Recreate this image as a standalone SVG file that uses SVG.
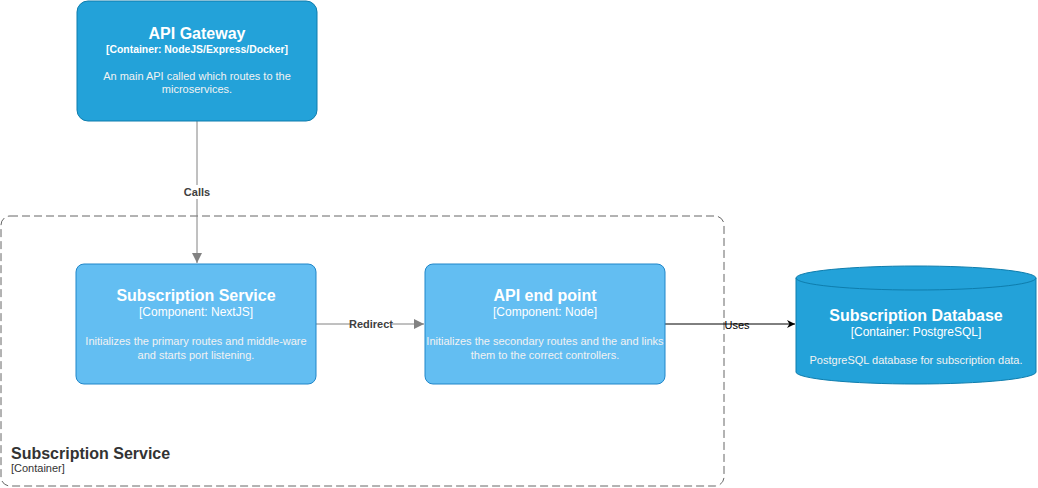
<svg xmlns="http://www.w3.org/2000/svg" width="1038" height="488" viewBox="0 0 1038 488">
<style>
text{font-family:"Liberation Sans",Arial,Helvetica,sans-serif;text-anchor:middle}
.title{font-size:16px;font-weight:bold;fill:#ffffff}
.tech{font-size:12px;fill:#ffffff}
.desc{font-size:11px;fill:#f2f2f2}
.cont{fill:#23A2D9;stroke:#0E7DAD;stroke-width:1}
.comp{fill:#63BEF2;stroke:#2086C9;stroke-width:1}
.edge{fill:none;stroke:#828282;stroke-width:1}
.elabel{font-size:11px;font-weight:bold;fill:#404040}
</style>
<defs>
<marker id="ag" viewBox="0 0 10 10" refX="10" refY="5" markerWidth="10" markerHeight="10" markerUnits="userSpaceOnUse" orient="auto">
<path d="M0,0 L10,5 L0,10 Z" fill="#828282"/>
</marker>
<marker id="ab" viewBox="0 0 10 10" refX="10" refY="5" markerWidth="8" markerHeight="8" markerUnits="userSpaceOnUse" orient="auto">
<path d="M0,0 L10,5 L0,10 L3,5 Z" fill="#000000"/>
</marker>
</defs>
<g id="boundary">
<rect x="1" y="216" width="723" height="270" rx="9" fill="none" stroke="#666666" stroke-dasharray="8 4"/>
<text x="11" y="459" style="text-anchor:start;font-size:16px;font-weight:bold;fill:#333333">Subscription Service</text>
<text x="11" y="472" style="text-anchor:start;font-size:11px;fill:#333333">[Container]</text>
</g>
<g id="edges">
<line class="edge" x1="197" y1="121" x2="197" y2="263" marker-end="url(#ag)"/>
<rect x="182" y="185" width="30" height="14" fill="#ffffff"/>
<text class="elabel" x="197" y="196">Calls</text>
<line class="edge" x1="316" y1="324" x2="424" y2="324" marker-end="url(#ag)"/>
<rect x="350" y="317" width="42" height="14" fill="#ffffff"/>
<text class="elabel" x="371" y="328">Redirect</text>
<line x1="665" y1="324" x2="795" y2="324" stroke="#000000" marker-end="url(#ab)"/>
<text x="737" y="329" style="font-size:11px;fill:#000000">Uses</text>
</g>
<g id="api-gateway">
<rect class="cont" x="77" y="1" width="240" height="120" rx="11"/>
<text class="title" x="197" y="39">API Gateway</text>
<text x="197" y="53" style="font-size:10.4px;font-weight:bold;fill:#ffffff">[Container: NodeJS/Express/Docker]</text>
<text class="desc" x="197" y="80">An main API called which routes to the</text>
<text class="desc" x="197" y="93">microservices.</text>
</g>
<g id="subscription-service">
<rect class="comp" x="76" y="264" width="240" height="120" rx="8"/>
<text class="title" x="196" y="301">Subscription Service</text>
<text class="tech" x="196" y="316">[Component: NextJS]</text>
<text class="desc" x="196" y="345">Initializes the primary routes and middle-ware</text>
<text class="desc" x="196" y="359">and starts port listening.</text>
</g>
<g id="api-end-point">
<rect class="comp" x="425" y="264" width="240" height="120" rx="8"/>
<text class="title" x="545" y="301">API end point</text>
<text class="tech" x="545" y="316">[Component: Node]</text>
<text class="desc" x="545" y="345">Initializes the secondary routes and the and links</text>
<text class="desc" x="545" y="359">them to the correct controllers.</text>
</g>
<g id="subscription-database">
<path class="cont" d="M796,278 A120,12 0 0 1 1036,278 L1036,372 A120,12 0 0 1 796,372 Z"/>
<path d="M796,278 A120,12 0 0 0 1036,278" fill="none" stroke="#0E7DAD"/>
<text class="title" x="916" y="321">Subscription Database</text>
<text class="tech" x="916" y="336">[Container: PostgreSQL]</text>
<text class="desc" x="916" y="364">PostgreSQL database for subscription data.</text>
</g>
</svg>
